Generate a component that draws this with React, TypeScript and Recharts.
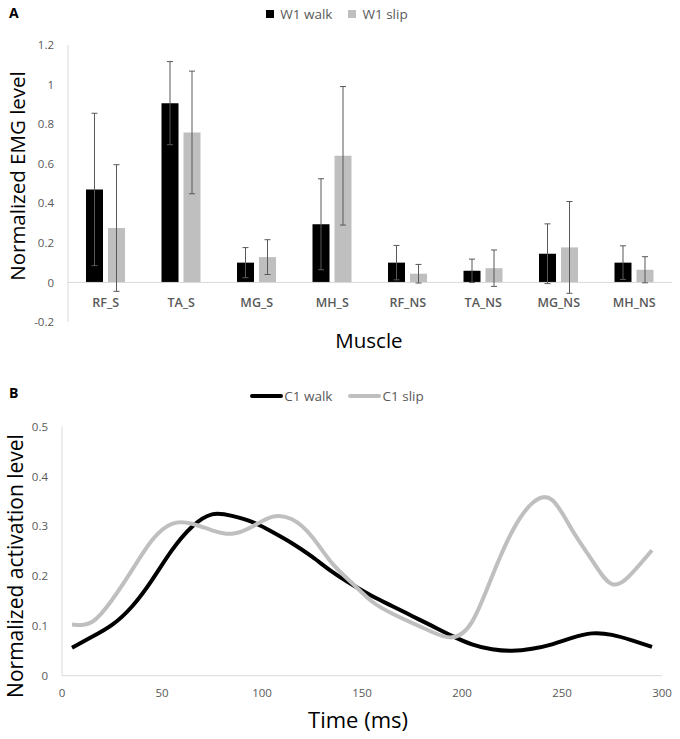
import React from "react";
import {
  BarChart,
  Bar,
  ErrorBar,
  LineChart,
  Line,
  XAxis,
  YAxis,
  ReferenceLine,
  Legend,
} from "recharts";

// Panel A: mean normalized EMG per muscle, with SD
const muscles = ["RF_S", "TA_S", "MG_S", "MH_S", "RF_NS", "TA_NS", "MG_NS", "MH_NS"];
const w1WalkMean = [0.47, 0.906, 0.1, 0.294, 0.1, 0.059, 0.145, 0.1];
const w1WalkSd = [0.385, 0.21, 0.076, 0.23, 0.087, 0.059, 0.151, 0.085];
const w1SlipMean = [0.275, 0.758, 0.128, 0.64, 0.044, 0.072, 0.177, 0.064];
const w1SlipSd = [0.32, 0.31, 0.088, 0.35, 0.047, 0.092, 0.232, 0.066];
const emgTicks = [-0.2, 0, 0.2, 0.4, 0.6, 0.8, 1, 1.2];

// Panel B: C1 activation over time
const timeMs = [
  5, 15, 25, 35, 45, 55, 65, 75, 85, 95, 105, 115, 125, 135, 145,
  155, 165, 175, 185, 195, 205, 215, 225, 235, 245, 255, 265, 275, 285, 295,
];
const c1Walk = [
  0.056, 0.078, 0.102, 0.139, 0.192, 0.252, 0.299, 0.324, 0.321, 0.309,
  0.289, 0.266, 0.239, 0.209, 0.183, 0.16, 0.14, 0.12, 0.1, 0.08,
  0.063, 0.053, 0.05, 0.054, 0.063, 0.076, 0.085, 0.082, 0.071, 0.058,
];
const c1Slip = [
  0.103, 0.108, 0.152, 0.212, 0.272, 0.305, 0.305, 0.292, 0.285, 0.299,
  0.319, 0.314, 0.279, 0.226, 0.186, 0.149, 0.125, 0.106, 0.088, 0.077,
  0.108, 0.199, 0.289, 0.346, 0.353, 0.293, 0.232, 0.184, 0.206, 0.252,
];
const timeTicks = [0, 50, 100, 150, 200, 250, 300];
const activationTicks = [0, 0.1, 0.2, 0.3, 0.4, 0.5];

const emgData = muscles.map((m, i) => ({
  muscle: m,
  walk: w1WalkMean[i],
  walkSd: w1WalkSd[i],
  slip: w1SlipMean[i],
  slipSd: w1SlipSd[i],
}));

const activationData = timeMs.map((t, i) => ({ t, walk: c1Walk[i], slip: c1Slip[i] }));

const FONT = "'Open Sans', sans-serif";
const TICK_COLOR = "#595959";
const AXIS_COLOR = "#d9d9d9";
const tickStyle = { fill: TICK_COLOR, fontSize: 11.5, fontFamily: FONT };

function MuscleTick({ x, y, payload }: any) {
  // category labels sit just under the zero line, not at the bottom of the plot
  return (
    <text
      x={x}
      y={y - 20}
      textAnchor="middle"
      dominantBaseline="central"
      fill={TICK_COLOR}
      fontSize={12.5}
      fontWeight={600}
      fontFamily={FONT}
    >
      {payload.value}
    </text>
  );
}

function LegendRow({ payload, kind, order }: any) {
  // keep series order (recharts sorts legend items by name otherwise)
  const items = [...(payload || [])].sort(
    (a: any, b: any) => order.indexOf(a.value) - order.indexOf(b.value)
  );
  return (
    <div
      style={{
        height: 16,
        display: "flex",
        justifyContent: "center",
        alignItems: "center",
        fontFamily: FONT,
        fontSize: 13.5,
        color: TICK_COLOR,
      }}
    >
      {items.map((entry: any, i: number) => (
        <span
          key={entry.value}
          style={{ display: "flex", alignItems: "center", marginLeft: i ? 16 : 0 }}
        >
          {kind === "square" ? (
            <span style={{ width: 8, height: 8, background: entry.color, marginRight: 6 }} />
          ) : (
            <span
              style={{ width: 33, height: 4, borderRadius: 2, background: entry.color, marginRight: 1 }}
            />
          )}
          {entry.value}
        </span>
      ))}
    </div>
  );
}

export default function App() {
  return (
    <div
      style={{
        position: "absolute",
        left: 0,
        top: 0,
        width: 680,
        height: 739,
        background: "#fff",
        fontFamily: FONT,
      }}
    >
      <div style={{ position: "absolute", left: 0, top: 0 }}>
        <BarChart
          width={680}
          height={370}
          data={emgData}
          margin={{ top: 29, right: 8, bottom: 18, left: 18 }}
          barSize={17}
          barGap={5}
        >
          <Legend
            verticalAlign="top"
            wrapperStyle={{ top: 6, left: 0, width: 674 }}
            content={(p: any) => (
              <LegendRow {...p} kind="square" order={["W1 walk", "W1 slip"]} />
            )}
          />
          <XAxis
            dataKey="muscle"
            axisLine={false}
            tickLine={false}
            tickSize={0}
            tickMargin={0}
            interval={0}
            tick={(p: any) => <MuscleTick {...p} />}
          />
          <YAxis
            width={50}
            domain={[-0.2, 1.2]}
            ticks={emgTicks}
            axisLine={{ stroke: AXIS_COLOR }}
            tickLine={false}
            tickSize={0}
            tickMargin={14}
            tick={tickStyle}
            tickFormatter={(v: number) => String(v)}
          />
          <ReferenceLine y={0} stroke={AXIS_COLOR} />
          <Bar dataKey="walk" name="W1 walk" fill="#000000" isAnimationActive={false}>
            <ErrorBar dataKey="walkSd" width={3} stroke="#595959" strokeWidth={1} direction="y" />
          </Bar>
          <Bar dataKey="slip" name="W1 slip" fill="#bfbfbf" isAnimationActive={false}>
            <ErrorBar dataKey="slipSd" width={3} stroke="#595959" strokeWidth={1} direction="y" />
          </Bar>
        </BarChart>
      </div>

      <div style={{ position: "absolute", left: 0, top: 380 }}>
        <LineChart
          width={680}
          height={359}
          data={activationData}
          margin={{ top: 30.7, right: 18, bottom: 33.3, left: 22 }}
        >
          <Legend
            verticalAlign="top"
            wrapperStyle={{ top: 8, left: 0, width: 674 }}
            content={(p: any) => (
              <LegendRow {...p} kind="line" order={["C1 walk", "C1 slip"]} />
            )}
          />
          <XAxis
            dataKey="t"
            type="number"
            domain={[0, 300]}
            ticks={timeTicks}
            axisLine={{ stroke: AXIS_COLOR }}
            tickLine={false}
            tickSize={0}
            tickMargin={13}
            tick={tickStyle}
          />
          <YAxis
            width={40}
            domain={[0, 0.5]}
            ticks={activationTicks}
            axisLine={{ stroke: AXIS_COLOR }}
            tickLine={false}
            tickSize={0}
            tickMargin={14}
            tick={tickStyle}
            tickFormatter={(v: number) => String(v)}
          />
          <Line
            type="natural"
            dataKey="walk"
            name="C1 walk"
            stroke="#000000"
            strokeWidth={4}
            dot={false}
            activeDot={false}
            isAnimationActive={false}
          />
          <Line
            type="natural"
            dataKey="slip"
            name="C1 slip"
            stroke="#bfbfbf"
            strokeWidth={4}
            dot={false}
            activeDot={false}
            isAnimationActive={false}
          />
        </LineChart>
      </div>

      {/* panel letters and axis titles */}
      <svg
        width={680}
        height={739}
        style={{ position: "absolute", left: 0, top: 0, pointerEvents: "none" }}
        fontFamily={FONT}
      >
        <text x={9} y={18} fontSize={14} fontWeight={700} fill="#000">A</text>
        <text x={9} y={398} fontSize={14} fontWeight={700} fill="#000">B</text>
        <text
          x={17}
          y={176}
          fontSize={20.5}
          fill="#000"
          textAnchor="middle"
          dominantBaseline="central"
          transform="rotate(-90 17 176)"
        >
          Normalized EMG level
        </text>
        <text x={369} y={340} fontSize={20.5} fill="#000" textAnchor="middle" dominantBaseline="central">
          Muscle
        </text>
        <text
          x={15}
          y={566}
          fontSize={21}
          fill="#000"
          textAnchor="middle"
          dominantBaseline="central"
          transform="rotate(-90 15 566)"
        >
          Normalized activation level
        </text>
        <text x={358} y={719} fontSize={22} fill="#000" textAnchor="middle" dominantBaseline="central">
          Time (ms)
        </text>
      </svg>
    </div>
  );
}
